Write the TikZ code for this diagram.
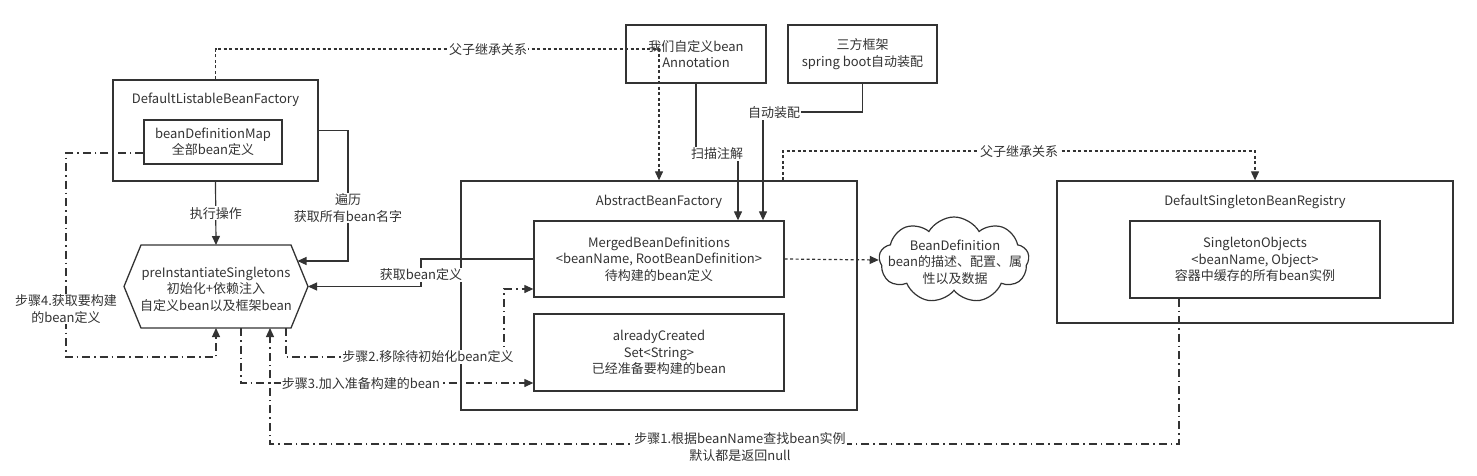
\documentclass[tikz,border=0pt]{standalone}
\usepackage{fontspec}
\setmainfont{Noto Sans CJK SC}
\usetikzlibrary{arrows.meta,shapes.symbols,calc}
\definecolor{lc}{HTML}{333333}
\definecolor{tc}{HTML}{333333}
\newcommand{\fsz}{\fontsize{13}{16.5}\selectfont}
\tikzset{
  box/.style={draw=lc, line width=1.3pt, inner sep=0pt},
  txt/.style={text=tc, align=center, font=\fsz, inner sep=1pt},
  lbl/.style={fill=white, text=tc, align=center, font=\fsz, inner sep=1pt},
  conn/.style={draw=lc, line width=1.2pt},
  arr/.style={-{Triangle[length=9pt,width=8pt]}},
  dd/.style={dash pattern=on 8pt off 4pt on 1.5pt off 4pt},
  dt/.style={dash pattern=on 3pt off 2.5pt},
}
\begin{document}
\begin{tikzpicture}[x=1pt,y=-1pt]
\useasboundingbox (0,0) rectangle (1477,476);
% boxes
\node[box, minimum width=205pt, minimum height=101pt] (dlbf) at (215.5,130.5) {};
\node[txt] (dlbft) at (215.5,100) {DefaultListableBeanFactory};
\node[box, minimum width=138pt, minimum height=44pt, txt] (bdm) at (213,142) {beanDefinitionMap\\全部bean定义};

\node[box, minimum width=396pt, minimum height=229pt] (abf) at (659,295.5) {};
\node[txt] (abft) at (659,202) {AbstractBeanFactory};
\node[box, minimum width=250pt, minimum height=76pt, txt] (mbd) at (659,259) {MergedBeanDefinitions\\<beanName, RootBeanDefinition>\\待构建的bean定义};
\node[box, minimum width=250pt, minimum height=77pt, txt] (ac) at (659,352.5) {alreadyCreated\\Set<String>\\已经准备要构建的bean};

\node[box, minimum width=396pt, minimum height=142pt] (dsbr) at (1255,252) {};
\node[txt] (dsbrt) at (1255,202) {DefaultSingletonBeanRegistry};
\node[box, minimum width=250pt, minimum height=77pt, txt] (so) at (1255,259.5) {SingletonObjects\\<beanName, Object>\\容器中缓存的所有bean实例};

\node[box, minimum width=140pt, minimum height=58pt, txt] (ours) at (696,54) {我们自定义bean\\Annotation};
\node[box, minimum width=149pt, minimum height=58pt, txt] (third) at (862.5,54) {三方框架\\spring boot自动装配};

\node[cloud, cloud puffs=9, cloud puff arc=120, aspect=1.6, draw=lc, line width=1.2pt, minimum width=150pt, minimum height=86pt, inner sep=0pt] (cloud) at (954,260) {};
\node[txt] (cloudt) at (955,262) {BeanDefinition\\bean的描述、配置、属\\性以及数据};

% hexagon
\coordinate (h1) at (141,245);
\coordinate (h2) at (291,245);
\coordinate (h3) at (308,286.5);
\coordinate (h4) at (291,328);
\coordinate (h5) at (141,328);
\coordinate (h6) at (124,286.5);
\draw[box] (h1) -- (h2) -- (h3) -- (h4) -- (h5) -- (h6) -- cycle;
\node[txt] (hex) at (216,289) {preInstantiateSingletons\\初始化+依赖注入\\自定义bean以及框架bean};
\coordinate (hexTop) at (216,245);
\coordinate (hexRU) at (297.5,261);
\coordinate (hexB1) at (216,328);
\coordinate (hexB2) at (241,328);
\coordinate (hexB3) at (270,328);
\coordinate (hexB4) at (286,328);

% connectors
\draw[conn,arr] (dlbf.south) -- node[lbl, pos=0.5] {执行操作} (hexTop);
\draw[conn,arr] (dlbf.east) -- (348,130.5) -- (348,261) -- (hexRU);
\node[lbl] (l1) at (348,208) {遍历\\获取所有bean名字};
\draw[conn,arr] (mbd.west) -- (421,259) -- (421,286.5) -- (h3);
\node[lbl] (l2) at (421,275) {获取bean定义};

\draw[conn,arr,dd] (hexB4) -- (286,357) -- (504,357) -- (504,289) -- (mbd.west |- 0,289);
\node[lbl] (l3) at (428,357) {步骤2.移除待初始化bean定义};
\draw[conn,arr,dd] (hexB2) -- (241,383) -- (ac.west |- 0,383);
\node[lbl] (l4) at (361,384) {步骤3.加入准备构建的bean};
\draw[conn,arr,dd] (so.south -| 1179,0) -- (1179,444) -- (270,444) -- (hexB3);
\node[lbl] (l5) at (740,447) {步骤1.根据beanName查找bean实例\\默认都是返回null};
\draw[conn,arr,dd] ([yshift=-11pt]bdm.west) -- (66,153) -- (66,357) -- (216,357) -- (hexB1);
\node[lbl] (l6) at (66,309) {步骤4.获取要构建\\的bean定义};

\draw[conn,arr] (ours.south) -- (696,155) -- (738,155) -- (mbd.north -| 738,0);
\node[lbl] (l7) at (717,154) {扫描注解};
\draw[conn,arr] (third.south) -- (862.5,112) -- (763,112) -- (mbd.north -| 763,0);
\node[lbl] (l8) at (774,113) {自动装配};

\draw[conn,arr,dt] (dlbf.north) -- (215.5,49) -- (659,49) -- (abf.north);
\node[lbl] (l9) at (488,50) {父子继承关系};
\draw[conn,arr,dt] (abf.north -| 783,0) -- (783,151) -- (1255,151) -- (dsbr.north);
\node[lbl] (l10) at (1019,152) {父子继承关系};
\draw[conn,arr,dt] (mbd.east) -- (cloud.west);
\end{tikzpicture}
\end{document}
